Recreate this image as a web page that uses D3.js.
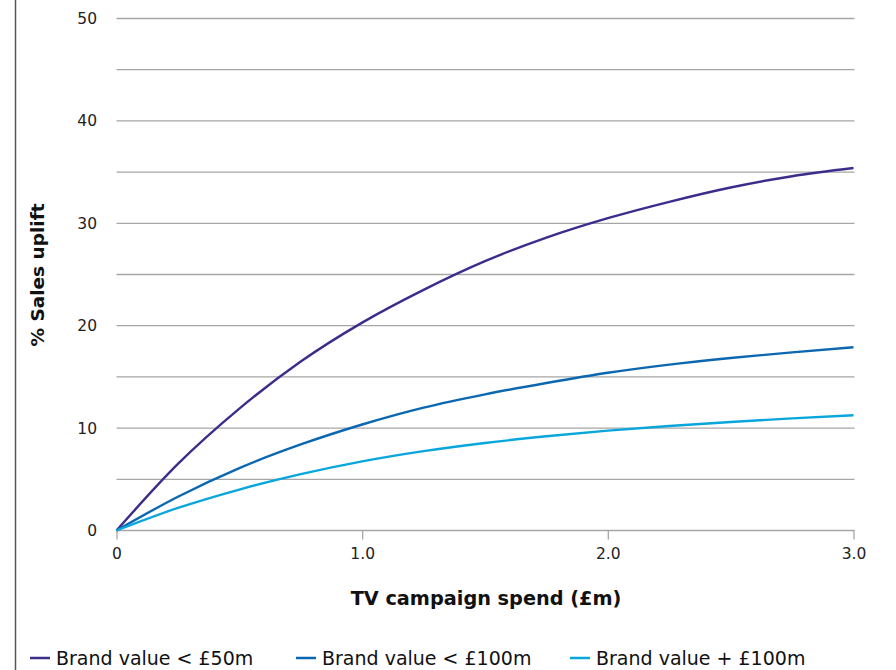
<!DOCTYPE html>
<html>
<head>
<meta charset="utf-8">
<script src="https://cdn.jsdelivr.net/npm/d3@7"></script>
<style>
  html, body { margin: 0; padding: 0; background: #fff; }
  svg { display: block; }
</style>
</head>
<body>
<svg id="chart" width="896" height="670"></svg>
<script>
// ---- Data ----
const spend = [0, 0.25, 0.5, 0.75, 1.0, 1.25, 1.5, 1.75, 2.0, 2.25, 2.5, 2.75, 3.0];
const under50m  = [0, 6.5, 11.9, 16.5, 20.3, 23.5, 26.3, 28.6, 30.5, 32.1, 33.5, 34.6, 35.4];
const under100m = [0, 3.3, 6.1, 8.4, 10.35, 12.0, 13.3, 14.4, 15.4, 16.2, 16.85, 17.4, 17.9];
const over100m  = [0, 2.2, 4.0, 5.5, 6.75, 7.75, 8.55, 9.2, 9.75, 10.2, 10.6, 10.95, 11.25];
const seriesNames = ["Brand value < £50m", "Brand value < £100m", "Brand value + £100m"];
const seriesColors = ["#3b2d8c", "#0b67b0", "#08a6dc"];
const xTicks = [0, 1, 2, 3];
const xTickLabels = ["0", "1.0", "2.0", "3.0"];
const yTicks = [0, 10, 20, 30, 40, 50];
const yGrid = [0, 5, 10, 15, 20, 25, 30, 35, 40, 45, 50];

const series = [under50m, under100m, over100m].map((vals, i) => ({
  name: seriesNames[i], color: seriesColors[i],
  points: spend.map((s, j) => ({ x: s, y: vals[j] }))
}));

// ---- Layout ----
const svg = d3.select("#chart");
const x = d3.scaleLinear().domain([0, 3]).range([116.5, 853.5]);
const y = d3.scaleLinear().domain([0, 50]).range([530.5, 18.5]);
const font = "'DejaVu Sans', sans-serif";

// left border line
svg.append("line").attr("x1", 15.5).attr("x2", 15.5).attr("y1", 0).attr("y2", 670)
  .attr("stroke", "#555").attr("stroke-width", 1.5);

// gridlines
svg.append("g").selectAll("line").data(yGrid).join("line")
  .attr("x1", x(0)).attr("x2", x(3) + 1)
  .attr("y1", d => y(d)).attr("y2", d => y(d))
  .attr("stroke", "#a6a6a6").attr("stroke-width", 1.3);

// y tick labels
svg.append("g").selectAll("text").data(yTicks).join("text")
  .attr("x", 97).attr("y", d => y(d)).attr("dy", "0.36em")
  .attr("text-anchor", "end")
  .attr("font-family", font).attr("font-size", 15.5).attr("fill", "#222")
  .text(d => d);

// x axis ticks
const xAxis = d3.axisBottom(x).tickValues(xTicks)
  .tickFormat((d, i) => xTickLabels[i]).tickSize(9).tickPadding(8);
const gx = svg.append("g").attr("transform", `translate(0,${y(0)})`).call(xAxis);
gx.select(".domain").remove();
gx.selectAll(".tick line").attr("stroke", "#a6a6a6").attr("stroke-width", 1.3);
gx.selectAll(".tick text").attr("font-family", font).attr("font-size", 15.5).attr("fill", "#222");

// lines
const line = d3.line().x(d => x(d.x)).y(d => y(d.y)).curve(d3.curveMonotoneX);
svg.append("g").selectAll("path").data(series).join("path")
  .attr("d", d => line(d.points))
  .attr("fill", "none").attr("stroke", d => d.color).attr("stroke-width", 2.4);

// axis titles
svg.append("text").attr("x", 486).attr("y", 605).attr("text-anchor", "middle")
  .attr("font-family", font).attr("font-weight", "bold")
  .attr("font-size", 19.3).attr("fill", "#111").text("TV campaign spend (£m)");

svg.append("text").attr("transform", "translate(44,275) rotate(-90)")
  .attr("text-anchor", "middle")
  .attr("font-family", font).attr("font-weight", "bold")
  .attr("font-size", 18.5).attr("fill", "#111").text("% Sales uplift");

// legend
const legendX = [30, 296, 570];
const lg = svg.append("g").selectAll("g").data(series).join("g")
  .attr("transform", (d, i) => `translate(${legendX[i]},658)`);
lg.append("line").attr("x1", 0).attr("x2", 20).attr("y1", 0).attr("y2", 0)
  .attr("stroke", d => d.color).attr("stroke-width", 2.5);
lg.append("text").attr("x", 26).attr("y", 0).attr("dy", "0.35em")
  .attr("font-family", font).attr("font-size", 19).attr("fill", "#111")
  .text(d => d.name);
</script>
</body>
</html>
